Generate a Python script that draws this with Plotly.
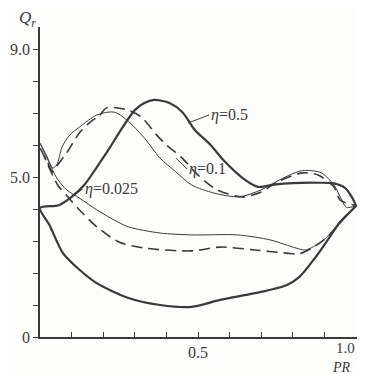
import plotly.graph_objects as go

# eta = 0.5 loop (thick solid)
pr_top_05 = [0.0, 0.06, 0.10, 0.14, 0.18, 0.22, 0.25, 0.30, 0.33, 0.36, 0.41, 0.45, 0.49, 0.54, 0.58, 0.65, 0.69, 0.74, 0.80, 0.88, 0.93, 0.965, 0.985, 1.0]
qr_top_05 = [4.03, 4.12, 4.38, 4.75, 5.31, 5.90, 6.38, 7.09, 7.31, 7.41, 7.31, 7.03, 6.47, 6.00, 5.53, 4.90, 4.69, 4.76, 4.81, 4.82, 4.80, 4.66, 4.40, 4.10]
pr_bot_05 = [0.0, 0.03, 0.072, 0.125, 0.178, 0.28, 0.38, 0.48, 0.57, 0.68, 0.78, 0.82, 0.87, 0.91, 0.95, 0.98, 1.0]
qr_bot_05 = [4.03, 3.50, 2.63, 2.10, 1.69, 1.22, 1.00, 0.94, 1.16, 1.37, 1.62, 1.87, 2.47, 3.03, 3.60, 3.90, 4.10]

# eta = 0.1 loop (dashed)
pr_top_01 = [0.0, 0.022, 0.04, 0.056, 0.084, 0.125, 0.156, 0.19, 0.21, 0.275, 0.32, 0.37, 0.40, 0.45, 0.50, 0.56, 0.64, 0.70, 0.75, 0.83, 0.88, 0.93, 0.95, 1.0]
qr_top_01 = [5.90, 5.50, 5.16, 5.38, 5.75, 6.38, 6.69, 6.94, 7.16, 7.10, 6.88, 6.30, 6.00, 5.59, 5.06, 4.60, 4.38, 4.53, 4.84, 5.13, 5.06, 4.69, 4.28, 4.10]
pr_bot_01 = [0.0, 0.025, 0.056, 0.088, 0.125, 0.18, 0.25, 0.33, 0.48, 0.57, 0.68, 0.78, 0.82, 0.86, 0.91, 0.95, 1.0]
qr_bot_01 = [5.94, 5.38, 4.75, 4.38, 3.97, 3.44, 2.97, 2.78, 2.69, 2.81, 2.72, 2.62, 2.60, 2.78, 3.13, 3.60, 4.10]

# eta = 0.025 loop (thin solid)
pr_top_0025 = [0.0, 0.02, 0.04, 0.053, 0.07, 0.094, 0.125, 0.18, 0.234, 0.275, 0.33, 0.38, 0.43, 0.48, 0.55, 0.63, 0.70, 0.77, 0.83, 0.89, 0.93, 0.95, 0.97, 1.0]
qr_top_0025 = [6.06, 5.69, 5.28, 5.38, 5.94, 6.31, 6.56, 6.94, 7.03, 6.78, 6.22, 5.59, 5.16, 4.75, 4.50, 4.38, 4.60, 4.97, 5.20, 5.13, 4.75, 4.38, 4.05, 4.10]
pr_bot_0025 = [0.0, 0.025, 0.053, 0.084, 0.125, 0.18, 0.234, 0.28, 0.38, 0.48, 0.625, 0.73, 0.81, 0.84, 0.89, 0.92, 0.96, 1.0]
qr_bot_0025 = [6.06, 5.53, 4.97, 4.60, 4.34, 3.97, 3.66, 3.44, 3.25, 3.19, 3.19, 3.03, 2.78, 2.72, 2.97, 3.25, 3.66, 4.10]

x_tickvals = [0.5]
x_ticktext = ["0.5"]
x_minor_ticks = [0.1, 0.2, 0.3, 0.4, 0.6, 0.7, 0.8, 0.9, 1.0]
x_end_label = "1.0"
y_tickvals = [0, 5, 9]
y_ticktext = ["0", "5.0", "9.0"]
y_minor_ticks = [1, 2, 3, 4, 6, 7, 8]

INK = "#3a3a3a"
FONT = "Liberation Serif, Times New Roman, DejaVu Serif, serif"

def loop(xt, yt, xb, yb):
    return list(xt) + list(reversed(xb)), list(yt) + list(reversed(yb))

fig = go.Figure()
for (xt, yt, xb, yb, w, dash) in [
    (pr_top_05, qr_top_05, pr_bot_05, qr_bot_05, 2.2, "solid"),
    (pr_top_01, qr_top_01, pr_bot_01, qr_bot_01, 1.6, "11px,6px"),
    (pr_top_0025, qr_top_0025, pr_bot_0025, qr_bot_0025, 1.0, "solid"),
]:
    x, y = loop(xt, yt, xb, yb)
    fig.add_trace(go.Scatter(x=x, y=y, mode="lines", cliponaxis=False,
                             line=dict(color=INK, width=w, dash=dash, shape="spline", smoothing=0.8),
                             showlegend=False, hoverinfo="skip"))

ann_font = dict(family=FONT, size=16, color=INK)
fig.add_annotation(x=0.469, y=6.69, ax=21, ay=-8, text="<i>η</i>=0.5", xanchor="left",
                   showarrow=True, arrowhead=0, arrowwidth=1, arrowcolor=INK, font=ann_font)
fig.add_annotation(x=0.431, y=5.59, ax=11, ay=11, text="<i>η</i>=0.1", xanchor="left",
                   showarrow=True, arrowhead=0, arrowwidth=1, arrowcolor=INK, font=ann_font)
fig.add_annotation(x=0.10, y=4.375, ax=11, ay=-8, text="<i>η</i>=0.025", xanchor="left",
                   showarrow=True, arrowhead=0, arrowwidth=1, arrowcolor=INK, font=ann_font)

fig.add_annotation(x=1.0, y=0, yshift=-11, xshift=-11, text=x_end_label, showarrow=False,
                   xanchor="center", yanchor="middle",
                   font=dict(family=FONT, size=15, color=INK))
fig.add_annotation(xref="paper", yref="paper", x=-0.038, y=1.027, text="<i>Q<sub>r</sub></i>",
                   xanchor="center", yanchor="middle",
                   showarrow=False, font=dict(family=FONT, size=17, color=INK))
fig.add_annotation(xref="paper", yref="paper", x=0.95, y=-0.097, text="<i>PR</i>",
                   xanchor="center", yanchor="middle",
                   showarrow=False, font=dict(family=FONT, size=14, color=INK))

# page body has an 8px margin (and the page clips at 357px), so size/margins keep the plot area in place
fig.update_layout(
    width=349, height=366,
    margin=dict(l=32, r=0, t=19, b=37, autoexpand=False),
    paper_bgcolor="#fdfdfc", plot_bgcolor="#fdfdfc",
    xaxis=dict(range=[0, 1.003], showgrid=False, zeroline=False, showline=True, automargin=False,
               linecolor=INK, linewidth=1.5, ticks="inside", ticklen=5, tickcolor=INK,
               tickvals=x_tickvals, ticktext=x_ticktext,
               minor=dict(tickvals=x_minor_ticks, ticks="inside", ticklen=5, tickcolor=INK),
               tickfont=dict(family=FONT, size=16, color=INK)),
    yaxis=dict(range=[0, 9.6875], showgrid=False, zeroline=False, showline=True, automargin=False,
               linecolor=INK, linewidth=1.5, ticks="outside", ticklen=5, tickcolor=INK,
               tickvals=y_tickvals, ticktext=y_ticktext,
               minor=dict(tickvals=y_minor_ticks, ticks="outside", ticklen=5, tickcolor=INK),
               tickfont=dict(family=FONT, size=16, color=INK)),
)

fig.write_html("out.html")
